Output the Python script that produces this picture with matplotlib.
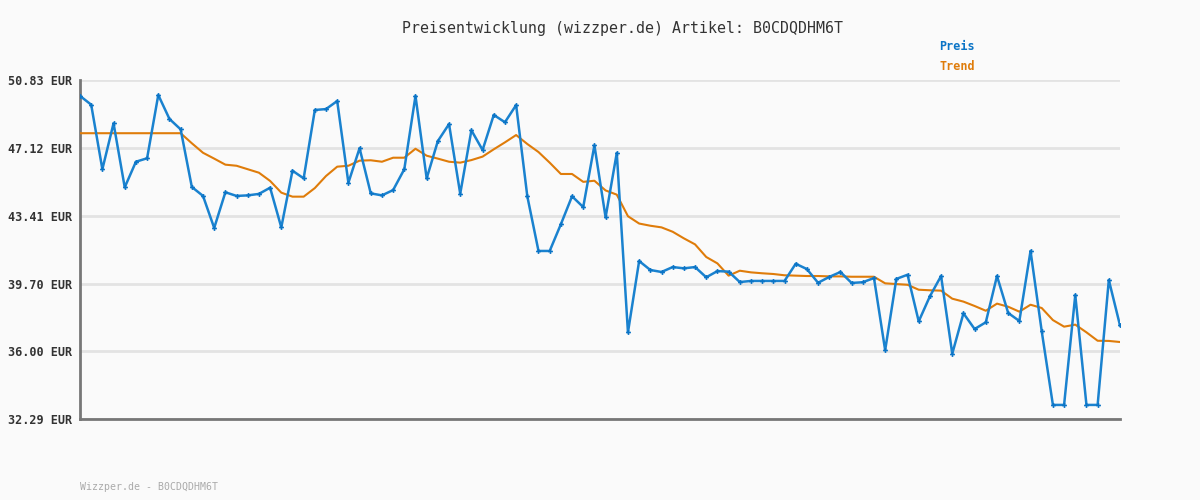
import matplotlib.pyplot as plt
import numpy as np

# price history (EUR)
preis = [49.96, 49.48, 45.95, 48.46, 44.96, 46.36, 46.55, 50.01, 48.70, 48.13,
         44.98, 44.49, 42.74, 44.69, 44.49, 44.52, 44.60, 44.94, 42.77, 45.87,
         45.45, 49.19, 49.24, 49.68, 45.21, 47.10, 44.63, 44.52, 44.81, 45.95,
         49.96, 45.45, 47.49, 48.42, 44.61, 48.08, 47.00, 48.92, 48.52, 49.46,
         44.47, 41.48, 41.48, 42.94, 44.47, 43.88, 47.26, 43.32, 46.84, 37.03,
         40.93, 40.44, 40.33, 40.60, 40.53, 40.60, 40.04, 40.38, 40.35, 39.78,
         39.84, 39.84, 39.84, 39.84, 40.78, 40.49, 39.74, 40.06, 40.33, 39.73,
         39.77, 40.00, 36.05, 39.95, 40.18, 37.63, 39.00, 40.11, 35.86, 38.07,
         37.21, 37.58, 40.11, 38.09, 37.65, 41.48, 37.09, 33.06, 33.06, 39.07,
         33.06, 33.06, 39.89, 37.41]

trend = [47.92, 47.92, 47.92, 47.92, 47.92, 47.92, 47.92, 47.92, 47.92, 47.92,
         47.37, 46.85, 46.53, 46.20, 46.14, 45.95, 45.76, 45.31, 44.67, 44.45,
         44.45, 44.92, 45.58, 46.09, 46.14, 46.42, 46.44, 46.36, 46.58, 46.58,
         47.07, 46.69, 46.53, 46.36, 46.31, 46.45, 46.64, 47.04, 47.42, 47.82,
         47.33, 46.89, 46.31, 45.69, 45.69, 45.26, 45.32, 44.79, 44.56, 43.38,
         42.98, 42.86, 42.77, 42.53, 42.17, 41.84, 41.15, 40.80, 40.13, 40.40,
         40.31, 40.26, 40.22, 40.15, 40.13, 40.11, 40.11, 40.09, 40.09, 40.07,
         40.07, 40.07, 39.71, 39.67, 39.63, 39.36, 39.33, 39.31, 38.87, 38.71,
         38.47, 38.21, 38.60, 38.43, 38.16, 38.54, 38.36, 37.70, 37.34, 37.45,
         37.03, 36.57, 36.56, 36.50]

y_ticks = [32.29, 36.00, 39.70, 43.41, 47.12, 50.83]
y_labels = ["32.29 EUR", "36.00 EUR", "39.70 EUR", "43.41 EUR", "47.12 EUR", "50.83 EUR"]
artikel = "B0CDQDHM6T"

blue = "#1a82cf"
orange = "#df7c0a"
bg = "#fafafa"
mono = "DejaVu Sans Mono"

fig = plt.figure(figsize=(12, 5), dpi=100, facecolor=bg)
ax = fig.add_axes([80 / 1200, 81 / 500, 1040 / 1200, 339 / 500], facecolor=bg)

x = np.arange(len(preis))
ax.plot(x, trend, color=orange, linewidth=1.5, zorder=3)
ax.plot(x, preis, color=blue, linewidth=1.8, marker="P", markersize=3.5,
        markeredgewidth=0, markerfacecolor="#0b74c6", zorder=4)

ax.set_xlim(0, len(preis) - 1)
ax.set_ylim(y_ticks[0], y_ticks[-1])
ax.set_yticks(y_ticks)
ax.set_yticklabels(y_labels, fontfamily=mono, fontweight="bold",
                   fontsize=8.5, color="#333333")
ax.set_xticks([])
ax.tick_params(axis="y", length=0, pad=5.5)
ax.grid(axis="y", color="#e3e3e3", linewidth=2, zorder=0)
ax.set_axisbelow(True)

for s in ["top", "right"]:
    ax.spines[s].set_visible(False)
for s in ["left", "bottom"]:
    ax.spines[s].set_color("#777777")
    ax.spines[s].set_linewidth(2)

fig.text(623 / 1200, 1 - 28 / 500, f"Preisentwicklung (wizzper.de) Artikel: {artikel}",
         ha="center", va="center", fontfamily=mono, fontsize=10.7, color="#333333")
fig.text(939 / 1200, 1 - 46 / 500, "Preis", ha="left", va="center",
         fontfamily=mono, fontweight="bold", fontsize=8.5, color="#0b74c6")
fig.text(939 / 1200, 1 - 67 / 500, "Trend", ha="left", va="center",
         fontfamily=mono, fontweight="bold", fontsize=8.5, color=orange)
fig.text(80 / 1200, 1 - 487 / 500, f"Wizzper.de - {artikel}", ha="left",
         va="center", fontfamily=mono, fontsize=7.1, color="#aaaaaa")

fig.savefig("out.png", dpi=100, facecolor=bg)
